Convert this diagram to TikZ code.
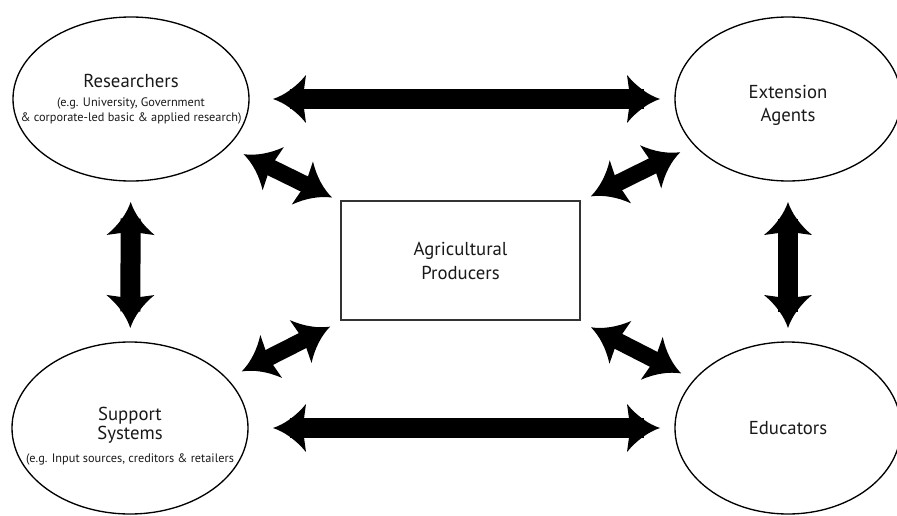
\documentclass[tikz,border=0pt]{standalone}
\usepackage{fontspec}
\setmainfont{PT Sans}
\usetikzlibrary{shapes.geometric, arrows.meta}

% thick double arrow head with hollow sides
\pgfdeclarearrow{
  name = Flare,
  parameters = {\the\pgfarrowlength,\the\pgfarrowwidth},
  setup code = {
    \pgfarrowssettipend{0pt}
    \pgfarrowssetlineend{-.5\pgfarrowlength}
    \pgfarrowssetbackend{-\pgfarrowlength}
    \pgfarrowssavethe\pgfarrowlength
    \pgfarrowssavethe\pgfarrowwidth
  },
  drawing code = {
    \pgfpathmoveto{\pgfqpoint{0pt}{0pt}}
    \pgfpathcurveto{\pgfqpoint{-.35\pgfarrowlength}{.08\pgfarrowwidth}}{\pgfqpoint{-.7\pgfarrowlength}{.25\pgfarrowwidth}}{\pgfqpoint{-\pgfarrowlength}{.5\pgfarrowwidth}}
    \pgfpathlineto{\pgfqpoint{-.9\pgfarrowlength}{0pt}}
    \pgfpathlineto{\pgfqpoint{-\pgfarrowlength}{-.5\pgfarrowwidth}}
    \pgfpathcurveto{\pgfqpoint{-.7\pgfarrowlength}{-.25\pgfarrowwidth}}{\pgfqpoint{-.35\pgfarrowlength}{-.08\pgfarrowwidth}}{\pgfqpoint{0pt}{0pt}}
    \pgfpathclose
    \pgfusepathqfill
  },
  defaults = {length = 9.9mm, width = 14.4mm}
}

\newcommand{\egtext}[1]{{\fontsize{10.5}{12.6}\selectfont #1}}

\tikzset{
  party/.style={ellipse, draw, line width=0.4mm, inner sep=0pt, outer sep=0pt},
  farm/.style={rectangle, draw=black!80, line width=0.5mm, inner sep=0pt, outer sep=0pt,
    minimum width=71.7mm, minimum height=35.7mm, align=center, font=\fontsize{16}{20.5}\selectfont},
  tag/.style={align=center, text=black!90, font=\fontsize{16}{19}\selectfont},
  link/.style={line width=6mm, Flare-Flare},
  slant/.style={link, line width=5mm}
}

\begin{document}
\begin{tikzpicture}[x=0.3mm, y=-0.3mm]
    \useasboundingbox (0,0) rectangle (897,516);

    % Ellipses and the box
    \node[party, minimum width=70.8mm, minimum height=49.2mm] (Res) at (131,99) {};
    \node[party, minimum width=70.8mm, minimum height=51.6mm] (Sup) at (130,428) {};
    \node[party, minimum width=67.8mm, minimum height=49.2mm] (Ext) at (788,99) {};
    \node[party, minimum width=67.8mm, minimum height=51.6mm] (Edu) at (788,428) {};
    \node[farm, text=black!90] (Prod) at (460.5,260.5) {Agricultural\\Producers};

    % Texts in the ellipses
    \node[tag] (Restext) at (Res) {Researchers\\[-2.8pt]\egtext{(e.g. University, Government}\\[-6.2pt]\egtext{\& corporate-led basic \& applied research)}};
    \node[tag] (Suptext) at ([yshift=-2.4mm]Sup) {Support\\[-2.6pt]Systems\\[0.2pt]\egtext{(e.g. Input sources, creditors \& retailers}};
    \node[tag] (Exttext) at ([yshift=-1.8mm]Ext) {Extension\\[0.6pt]Agents};
    \node[tag] (Edutext) at (Edu) {Educators};

    % Outer ring
    \draw[link, shorten <=7.2mm, shorten >=4.5mm] (Res) -- (Ext);
    \draw[link, shorten <=7.5mm, shorten >=4.5mm] (Sup) -- (Edu);
    \draw[link, shorten <=6.3mm, shorten >=4.2mm] (Res) -- (Sup);
    \draw[link, shorten <=6.3mm, shorten >=4.2mm] (Ext) -- (Edu);

    % To the producers
    \draw[slant, shorten <=5.4mm, shorten >=3mm] (Res) -- (Prod);
    \draw[slant, shorten <=4.8mm, shorten >=3.6mm] (Ext) -- (Prod);
    \draw[slant, shorten <=5mm, shorten >=4.4mm] (Sup) -- (Prod);
    \draw[slant, shorten <=4.4mm, shorten >=4.8mm] (Edu) -- (Prod);

\end{tikzpicture}
\end{document}
